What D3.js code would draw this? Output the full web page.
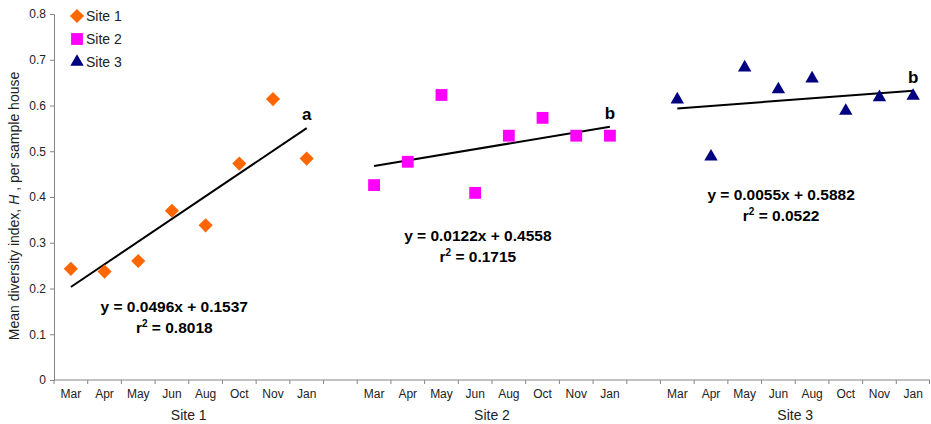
<!DOCTYPE html>
<html>
<head>
<meta charset="utf-8">
<script src="https://cdn.jsdelivr.net/npm/d3@7"></script>
<style>
  body { margin: 0; background: #fff; }
  svg { font-family: "Liberation Sans", Arial, sans-serif; }
</style>
</head>
<body>
<div id="chart"></div>
<script>
// chart data
const months = ['Mar', 'Apr', 'May', 'Jun', 'Aug', 'Oct', 'Nov', 'Jan'];
const sites = ['Site 1', 'Site 2', 'Site 3'];
const site1 = [0.243, 0.237, 0.260, 0.370, 0.338, 0.473, 0.614, 0.484];
const site2 = [0.426, 0.477, 0.623, 0.409, 0.534, 0.573, 0.534, 0.534];
const site3 = [0.613, 0.488, 0.683, 0.635, 0.659, 0.588, 0.618, 0.621];
const slopes = [0.0496, 0.0122, 0.0055];
const intercepts = [0.1537, 0.4558, 0.5882];
const rSquared = ['0.8018', '0.1715', '0.0522'];
const letters = ['a', 'b', 'b'];
const yTicks = [0, 0.1, 0.2, 0.3, 0.4, 0.5, 0.6, 0.7, 0.8];

const width = 931;
const height = 424;
const margin = { top: 14, right: 1, bottom: 44, left: 54 };

const colors = ['#ff6600', '#ff00ff', '#000080'];
const shapes = [d3.symbolSquare, d3.symbolSquare, d3.symbolTriangle];
const shapeSizes = [100, 140, 78];
const rotations = [45, 0, 0];   // diamond = square turned 45deg
const allSeries = [site1, site2, site3];

// categories: 8 months per site, with one empty slot between sites
const keys = [];
sites.forEach((s, i) => {
  months.forEach((m) => keys.push(s + '|' + m));
  if (i < sites.length - 1) keys.push('gap' + i);
});

const svg = d3.select('#chart').append('svg')
  .attr('width', width)
  .attr('height', height);

const x = d3.scaleBand()
  .domain(keys)
  .range([margin.left, width - margin.right])
  .paddingInner(0)
  .paddingOuter(0);

const y = d3.scaleLinear()
  .domain([0, 0.8])
  .range([height - margin.bottom, margin.top]);

const cx = (site, month) => x(site + '|' + month) + x.bandwidth() / 2;
const axisColor = '#858585';
const textColor = '#222';

// y axis
const yAxis = svg.append('g')
  .attr('transform', `translate(${margin.left},0)`)
  .call(d3.axisLeft(y).tickValues(yTicks).tickSize(4).tickPadding(4)
    .tickFormat((d) => d === 0 ? '0' : d3.format('.1f')(d)));
yAxis.select('.domain').attr('stroke', axisColor);
yAxis.selectAll('.tick line').attr('stroke', axisColor);
yAxis.selectAll('.tick text').attr('fill', textColor).style('font-size', '12px');

// x axis: baseline plus ticks at category boundaries
const y0 = y(0);
const xg = svg.append('g');
xg.append('line')
  .attr('x1', margin.left).attr('x2', width - margin.right)
  .attr('y1', y0).attr('y2', y0)
  .attr('stroke', axisColor);
const bounds = keys.map((k) => x(k)).concat([x.range()[1] - 0.5]);
xg.selectAll('line.tk').data(bounds).join('line')
  .attr('class', 'tk')
  .attr('x1', (d) => d).attr('x2', (d) => d)
  .attr('y1', y0).attr('y2', y0 + 4)
  .attr('stroke', axisColor);
sites.forEach((s) => {
  xg.selectAll(null).data(months).join('text')
    .attr('x', (m) => cx(s, m))
    .attr('y', y0 + 18)
    .attr('text-anchor', 'middle')
    .attr('fill', textColor)
    .style('font-size', '12px')
    .text((m) => m);
  xg.append('text')
    .attr('x', (cx(s, 'Jun') + cx(s, 'Aug')) / 2)
    .attr('y', y0 + 40)
    .attr('text-anchor', 'middle')
    .attr('fill', textColor)
    .style('font-size', '14px')
    .text(s);
});

// y axis title
const yTitle = svg.append('text')
  .attr('transform', `translate(19,${(y(0) + y(0.8)) / 2 + 9}) rotate(-90)`)
  .attr('text-anchor', 'middle')
  .attr('fill', textColor)
  .style('font-size', '14px');
yTitle.append('tspan').text('Mean diversity index, ');
yTitle.append('tspan').style('font-style', 'italic').text('H');
yTitle.append('tspan').text(' , per sample house');

// trend lines
sites.forEach((s, i) => {
  const f = (n) => slopes[i] * n + intercepts[i];
  svg.append('line')
    .attr('x1', cx(s, months[0])).attr('y1', y(f(1)))
    .attr('x2', cx(s, months[7])).attr('y2', y(f(8)))
    .attr('stroke', '#000')
    .attr('stroke-width', 2);
});

// markers
sites.forEach((s, i) => {
  svg.append('g').selectAll('path').data(allSeries[i]).join('path')
    .attr('transform', (d, j) => `translate(${cx(s, months[j])},${y(d)}) rotate(${rotations[i]})`)
    .attr('d', d3.symbol().type(shapes[i]).size(shapeSizes[i]))
    .attr('fill', colors[i]);
});

// equations and significance letters
const eqPos = [[3.57, 0.1486], [3.58, 0.304], [3.58, 0.393]]; // [category offset, y value]
sites.forEach((s, i) => {
  const px = x(s + '|' + months[0]) + eqPos[i][0] * x.bandwidth();
  const py = y(eqPos[i][1]);
  svg.append('text')
    .attr('x', px).attr('y', py)
    .attr('text-anchor', 'middle')
    .attr('font-weight', 'bold')
    .style('font-size', '15.5px')
    .text(`y = ${slopes[i].toFixed(4)}x + ${intercepts[i].toFixed(4)}`);
  const r = svg.append('text')
    .attr('x', px).attr('y', py + 21)
    .attr('text-anchor', 'middle')
    .attr('font-weight', 'bold')
    .style('font-size', '15.5px');
  r.append('tspan').text('r');
  r.append('tspan').attr('dy', -6).style('font-size', '10px').text('2');
  r.append('tspan').attr('dy', 6).text(' = ' + rSquared[i]);
  svg.append('text')
    .attr('x', cx(s, months[7]))
    .attr('y', y(slopes[i] * 8 + intercepts[i]) - 8)
    .attr('text-anchor', 'middle')
    .attr('font-weight', 'bold')
    .style('font-size', '17px')
    .text(letters[i]);
});

// legend
const legend = svg.append('g').attr('transform', 'translate(77,16)');
sites.forEach((s, i) => {
  const row = legend.append('g').attr('transform', `translate(0,${i * 23})`);
  row.append('path')
    .attr('transform', `rotate(${rotations[i]})`)
    .attr('d', d3.symbol().type(shapes[i]).size(shapeSizes[i]))
    .attr('fill', colors[i]);
  row.append('text')
    .attr('x', 9).attr('y', 5)
    .attr('fill', textColor)
    .style('font-size', '14px')
    .text(s);
});
</script>
</body>
</html>
